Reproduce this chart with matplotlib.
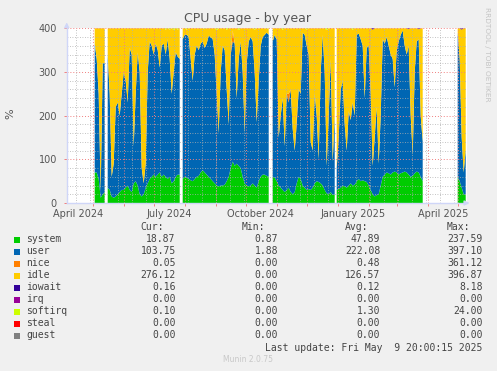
import numpy as np
import matplotlib.pyplot as plt
from matplotlib.patches import Rectangle
from datetime import datetime, timedelta

# Graph window: 400 days back from the last update, 1 column per day
START = datetime(2024, 4, 4, 20, 0)
DAYS = 400
TOTAL = 400  # 4 cpus

# Sample days (days since START), one block per stretch of recorded data
seg_days = [
    list(range(28, 39, 2)),
    list(range(41, 114, 2)),
    list(range(116, 203, 2)),
    list(range(206, 269, 2)),
    list(range(270, 357, 2)),
    list(range(391, 400, 2)),
]

seg_system = [
    [70, 70, 55, 12, 20, 25],
    [35, 30, 15, 12, 15, 20, 25, 30, 30, 35, 40, 30, 25, 45, 50, 40, 20, 15, 20,
     35, 45, 55, 60, 65, 60, 65, 70, 60, 65, 60, 55, 60, 45, 50, 60, 65, 65],
    [55, 60, 58, 55, 52, 50, 55, 60, 62, 70, 75, 70, 65, 60, 55, 50, 45, 40, 38,
     40, 40, 42, 50, 60, 80, 95, 85, 90, 85, 80, 60, 45, 40, 38, 40, 45, 40, 35,
     50, 60, 65, 65, 62, 60],
    [60, 58, 50, 40, 35, 30, 25, 30, 35, 25, 20, 25, 45, 60, 55, 40, 35, 30, 32,
     30, 35, 45, 50, 48, 45, 40, 30, 22, 20, 25, 18, 20],
    [30, 32, 35, 40, 38, 35, 40, 45, 40, 42, 50, 55, 50, 52, 50, 48, 40, 30, 20,
     15, 18, 20, 40, 60, 65, 70, 68, 65, 70, 72, 70, 65, 68, 70, 72, 70, 65, 60,
     62, 68, 72, 70, 60, 50],
    [60, 50, 35, 20, 18.87],
]

seg_user = [
    [295, 260, 195, 13, 300, 295],
    [305, 220, 45, 78, 205, 210, 175, 220, 270, 245, 190, 325, 315, 85, 200, 305,
     280, 65, 25, 55, 255, 315, 300, 275, 305, 285, 240, 300, 300, 280, 320, 270,
     205, 250, 285, 270, 265],
    [320, 325, 327, 325, 278, 230, 285, 300, 288, 295, 295, 285, 300, 323, 325,
     325, 295, 210, 122, 260, 320, 308, 210, 120, 260, 275, 280, 150, 245, 290,
     240, 115, 280, 332, 340, 325, 260, 150, 230, 300, 315, 320, 328, 325],
    [310, 327, 325, 110, 165, 210, 105, 220, 195, 235, 150, 95, 135, 200, 195,
     350, 350, 330, 308, 110, 85, 205, 150, 52, 255, 345, 270, 63, 180, 305, 77,
     180],
    [50, 118, 225, 240, 142, 85, 170, 145, 190, 158, 335, 333, 325, 308, 190, 307,
     320, 220, 65, 135, 202, 70, 160, 315, 300, 310, 292, 275, 260, 193, 280, 305,
     317, 325, 288, 270, 295, 140, 48, 232, 298, 305, 140, 90],
    [330, 280, 115, 50, 103.75],
]

# occasional small bands (day -> value)
nice_pts = {166: 25, 222: 20, 230: 15}
iowait_pts = {306: 3, 342: 2, 396: 3, 352: 2}
softirq_pts = {100: 3, 104: 3, 108: 4, 112: 3, 120: 3, 138: 2, 150: 4, 160: 3,
               172: 4, 188: 3, 200: 2, 216: 3, 240: 3, 260: 4, 286: 3}

series_names = ['system', 'user', 'nice', 'idle', 'iowait', 'irq', 'softirq', 'steal', 'guest']
series_colors = ['#00CC00', '#0066B3', '#FF8000', '#FFCC00', '#330099',
                 '#990099', '#CCFF00', '#FF0000', '#808080']
cur = ['18.87', '103.75', '0.05', '276.12', '0.16', '0.00', '0.10', '0.00', '0.00']
vmin = ['0.87', '1.88', '0.00', '0.00', '0.00', '0.00', '0.00', '0.00', '0.00']
avg = ['47.89', '222.08', '0.48', '126.57', '0.12', '0.00', '1.30', '0.00', '0.00']
vmax = ['237.59', '397.10', '361.12', '396.87', '8.18', '0.00', '24.00', '0.00', '0.00']

quarter_labels = ['April 2024', 'July 2024', 'October 2024', 'January 2025', 'April 2025']
label_dates = [datetime(2024, 4, 16), datetime(2024, 7, 16), datetime(2024, 10, 16),
               datetime(2025, 1, 16), datetime(2025, 4, 16)]


def day_of(d):
    return (d - START).total_seconds() / 86400.0


# join the blocks, NaN between them leaves the unknown gaps blank
x, sysv, usrv = [], [], []
for i, days in enumerate(seg_days):
    if i > 0:
        x.append((x[-1] + days[0]) / 2.0)
        sysv.append(np.nan)
        usrv.append(np.nan)
    x += days
    sysv += seg_system[i]
    usrv += seg_user[i]
x = np.array(x, dtype=float)
sysv = np.array(sysv, dtype=float)
usrv = np.array(usrv, dtype=float)

def sparse(pts):
    arr = np.where(np.isnan(sysv), np.nan, 0.0)
    for d, v in pts.items():
        arr[np.argmin(np.abs(x - d))] = v
    return arr

nice = sparse(nice_pts)
iowait = sparse(iowait_pts)
softirq = sparse(softirq_pts)
idle = np.maximum(TOTAL - sysv - usrv - nice - iowait - softirq, 0)

fig = plt.figure(figsize=(4.97, 3.71), dpi=100, facecolor='#F0F0F0')
ax = fig.add_axes([66.7 / 497, 168 / 371, 400 / 497, 174.7 / 371])
ax.set_facecolor('white')

ax.stackplot(x, sysv, usrv, nice, idle, iowait, softirq,
             colors=[series_colors[i] for i in (0, 1, 2, 3, 4, 6)],
             linewidth=0, zorder=1)

ax.set_xlim(0, DAYS)
ax.set_ylim(0, TOTAL)

# y grid: minor every 20, major every 100
ax.set_yticks(range(0, 401, 100))
ax.set_yticks(range(0, 401, 20), minor=True)
ax.yaxis.grid(True, which='minor', color='#B0B0B0', lw=0.6, ls=(0, (1, 2)), zorder=3)
ax.yaxis.grid(True, which='major', color='#F08080', lw=0.7, ls=(0, (1, 2)), zorder=3)

# x grid: red at month starts, grey every second Sunday
month_days = []
d = datetime(2024, 5, 1)
while d < START + timedelta(days=DAYS):
    month_days.append(day_of(d))
    d = datetime(d.year + (d.month // 12), d.month % 12 + 1, 1)
week_days = []
d = datetime(2024, 4, 14)
while d < START + timedelta(days=DAYS):
    week_days.append(day_of(d))
    d += timedelta(days=14)

ax.vlines(week_days, 0, TOTAL, colors='#B0B0B0', lw=0.6, linestyles=(0, (1, 2)), zorder=3)
ax.set_xticks(month_days)
ax.set_xticklabels([])
ax.xaxis.grid(True, which='major', color='#F08080', lw=0.7, ls=(0, (1, 2)), zorder=3)
ax.set_xticks([day_of(t) for t in label_dates], minor=True)
ax.set_xticklabels(quarter_labels, minor=True)

ax.tick_params(axis='x', which='major', length=2, color='#F08080', width=0.7)
ax.tick_params(axis='x', which='minor', length=0, pad=4.5, labelsize=7, labelcolor='#555555')
ax.tick_params(axis='y', which='major', length=2, color='#F08080', width=0.7,
               pad=5, labelsize=7, labelcolor='#555555')
ax.tick_params(axis='y', which='minor', length=0)
ax.set_axisbelow(False)

for s in ('top', 'right'):
    ax.spines[s].set_visible(False)
for s in ('left', 'bottom'):
    ax.spines[s].set_color('#CFD6F8')
    ax.spines[s].set_linewidth(1)
    ax.spines[s].set_zorder(4)

ax.annotate('', xy=(0, 1.05), xytext=(0, 0.99), xycoords='axes fraction',
            arrowprops=dict(arrowstyle='-|>', color='#CFD6F8', lw=1, mutation_scale=7))
ax.annotate('', xy=(1.014, 0), xytext=(0.99, 0), xycoords='axes fraction',
            arrowprops=dict(arrowstyle='-|>', color='#CFD6F8', lw=1, mutation_scale=7))

def fy(y):
    return 1 - y / 371

fig.text(10.8 / 497, fy(114), '%', rotation=90, ha='center', va='center',
         fontsize=8, color='#555555')
fig.text(248 / 497, fy(18.5), 'CPU usage - by year', ha='center', va='center',
         fontsize=9, color='#555555')
fig.text(487.5 / 497, fy(54), 'RRDTOOL / TOBI OETIKER', rotation=270,
         ha='center', va='center', fontsize=5.3, color='#C4C4C4')

# legend block
mono = dict(family='DejaVu Sans Mono', fontsize=7, color='#444444', va='center')

fig.text(163.5 / 497, fy(227.5), 'Cur:', ha='right', **mono)
fig.text(265.5 / 497, fy(227.5), 'Min:', ha='right', **mono)
fig.text(368 / 497, fy(227.5), 'Avg:', ha='right', **mono)
fig.text(470 / 497, fy(227.5), 'Max:', ha='right', **mono)

for i, name in enumerate(series_names):
    y = 239.5 + 12 * i
    fig.add_artist(Rectangle((14 / 497, fy(y + 3)), 6 / 497, 6 / 371,
                             transform=fig.transFigure, color=series_colors[i], lw=0))
    fig.text(26.3 / 497, fy(y), name, ha='left', **mono)
    fig.text(175.7 / 497, fy(y), cur[i], ha='right', **mono)
    fig.text(278.3 / 497, fy(y), vmin[i], ha='right', **mono)
    fig.text(380.3 / 497, fy(y), avg[i], ha='right', **mono)
    fig.text(482.7 / 497, fy(y), vmax[i], ha='right', **mono)

fig.text(482.7 / 497, fy(347.7), 'Last update: Fri May  9 20:00:15 2025', ha='right', **mono)
fig.text(248 / 497, fy(360), 'Munin 2.0.75', ha='center', va='center',
         fontsize=5.5, color='#C8C8C8')

fig.savefig('out.png', dpi=100, facecolor=fig.get_facecolor())
